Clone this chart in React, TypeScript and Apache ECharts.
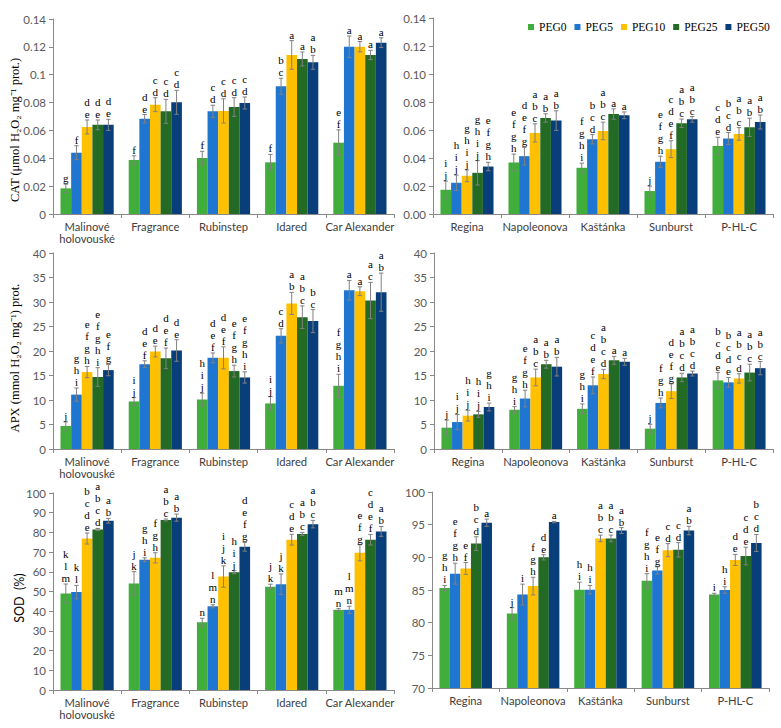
import React, { useEffect, useRef } from "react";
import * as echarts from "echarts";

const SERIES = ["PEG0", "PEG5", "PEG10", "PEG25", "PEG50"];
const COLORS = ["#41AE3B", "#1E76D0", "#FFC000", "#236A24", "#083F7B"];
const CATS_L = ["Malinové\nholovouské", "Fragrance", "Rubinstep", "Idared", "Car Alexander"];
const CATS_R = ["Regina", "Napoleonova", "Kaštánka", "Sunburst", "P-HL-C"];

// CAT left: [series][cultivar]
const catLMean = [
  [0.0184, 0.0388, 0.0402, 0.0371, 0.0512],
  [0.044, 0.0684, 0.0737, 0.0917, 0.1201],
  [0.0625, 0.0785, 0.074, 0.1142, 0.1201],
  [0.064, 0.0737, 0.0768, 0.1113, 0.1142],
  [0.064, 0.0802, 0.0797, 0.1089, 0.123],
];
const catLErr = [
  [0.003, 0.003, 0.0048, 0.0057, 0.0092],
  [0.005, 0.003, 0.0044, 0.0057, 0.0077],
  [0.005, 0.005, 0.0087, 0.0103, 0.0037],
  [0.0035, 0.0086, 0.0067, 0.005, 0.0033],
  [0.004, 0.0086, 0.0043, 0.005, 0.0035],
];
const catLLet = [
  ["g", "f", "f", "f", "ef"],
  ["f", "de", "cd", "bc", "a"],
  ["de", "cd", "cd", "a", "a"],
  ["de", "cd", "cd", "a", "a"],
  ["de", "cd", "cd", "ab", "a"],
];

// CAT right
const catRMean = [
  [0.0173, 0.0368, 0.033, 0.0164, 0.0486],
  [0.0223, 0.0413, 0.0534, 0.0373, 0.0539],
  [0.0273, 0.0579, 0.0593, 0.0463, 0.0572],
  [0.0294, 0.0686, 0.0714, 0.0648, 0.0619],
  [0.0339, 0.0667, 0.0705, 0.0676, 0.0657],
];
const catRErr = [
  [0.0062, 0.006, 0.0033, 0.0035, 0.0062],
  [0.0055, 0.0063, 0.0033, 0.004, 0.0043],
  [0.0042, 0.0065, 0.0063, 0.006, 0.0045],
  [0.0087, 0.003, 0.0037, 0.003, 0.0065],
  [0.003, 0.007, 0.0024, 0.002, 0.005],
];
const catRLet = [
  ["ij", "efgh", "fghi", "j", "cde"],
  ["hij", "defg", "bcd", "efgh", "bcd"],
  ["ghij", "abc", "abc", "cdef", "abc"],
  ["ghij", "ab", "a", "abc", "ab"],
  ["efgh", "ab", "a", "abc", "ab"],
];

// APX left
const apxLMean = [
  [4.7, 9.7, 10.1, 9.3, 12.9],
  [11.1, 17.3, 18.6, 23.1, 32.4],
  [15.7, 19.9, 18.6, 29.7, 32.2],
  [14.7, 18.5, 15.9, 26.9, 30.3],
  [16.1, 20.1, 14.6, 26.1, 32.0],
];
const apxLErr = [
  [0.85, 0.8, 1.3, 1.4, 2.35],
  [1.35, 0.7, 1.0, 1.45, 2.0],
  [1.15, 1.1, 2.25, 2.25, 0.9],
  [1.9, 2.1, 1.2, 2.3, 3.7],
  [1.15, 2.2, 1.15, 2.35, 3.9],
];
const apxLLet = [
  ["j", "ij", "hij", "ij", "fghi"],
  ["ghi", "def", "def", "cd", "a"],
  ["efgh", "de", "def", "ab", "a"],
  ["efghi", "def", "efgh", "abc", "ac"],
  ["efg", "de", "efghi", "bc", "ab"],
];

// APX right
const apxRMean = [
  [4.35, 8.0, 8.2, 4.15, 14.0],
  [5.5, 10.3, 13.0, 9.4, 13.6],
  [6.8, 14.6, 15.3, 11.8, 14.4],
  [7.07, 17.3, 18.1, 14.6, 15.6],
  [8.57, 16.8, 17.8, 15.4, 16.5],
];
const apxRErr = [
  [1.55, 0.65, 1.0, 0.9, 1.6],
  [1.55, 1.7, 1.7, 1.0, 1.0],
  [1.1, 1.7, 0.95, 1.5, 0.95],
  [0.6, 0.8, 0.8, 0.85, 1.7],
  [0.8, 1.9, 0.7, 0.5, 1.35],
];
const apxRLet = [
  ["j", "ghi", "ghi", "j", "bcde"],
  ["ij", "efgh", "cdef", "fgh", "bcde"],
  ["hij", "abc", "abcd", "defg", "abcd"],
  ["hij", "ab", "a", "abcd", "abc"],
  ["ghi", "ab", "a", "abcd", "abc"],
];

// SOD left
const sodLMean = [
  [49.0, 54.1, 34.4, 52.4, 40.7],
  [49.7, 66.1, 42.5, 53.7, 40.7],
  [76.9, 67.1, 57.6, 76.3, 69.7],
  [81.5, 86.3, 59.8, 79.2, 76.3],
  [85.9, 87.5, 72.7, 84.2, 80.5],
];
const sodLErr = [
  [4.8, 6.0, 2.0, 1.3, 0.6],
  [3.4, 1.0, 0.8, 5.2, 1.8],
  [2.8, 2.6, 5.4, 2.7, 4.1],
  [0.5, 0.5, 0.8, 0.8, 2.7],
  [1.2, 1.8, 2.2, 1.9, 2.5],
];
const sodLLet = [
  ["klm", "jk", "n", "jk", "mn"],
  ["kl", "ghi", "lmn", "jk", "lmn"],
  ["bcde", "fgh", "ijk", "cde", "efg"],
  ["abcd", "abc", "hij", "abc", "cdef"],
  ["ab", "ab", "defg", "abc", "ab"],
];

// SOD right
const sodRMean = [
  [85.3, 81.4, 85.05, 86.4, 84.3],
  [87.5, 84.3, 85.05, 88.0, 85.0],
  [88.3, 85.6, 92.9, 91.1, 89.6],
  [92.1, 90.0, 92.9, 91.15, 90.2],
  [95.3, 95.4, 94.1, 94.1, 92.2],
];
const sodRErr = [
  [0.4, 0.9, 1.15, 1.1, 0.2],
  [1.6, 1.6, 0.65, 0.55, 0.5],
  [0.9, 1.35, 0.5, 1.0, 0.85],
  [1.05, 0.4, 0.5, 1.1, 1.35],
  [0.55, 0.1, 0.45, 0.65, 1.3],
];
const sodRLet = [
  ["ghi", "j", "hi", "fghi", "i"],
  ["efgh", "i", "hi", "efg", "hi"],
  ["ef", "fgh", "abc", "cd", "de"],
  ["bcd", "de", "abc", "cd", "cde"],
  ["a", "a", "ab", "ab", "bcd"],
];

const CAT_GAP = 0.22;
const SANS = "Lato";
const SERIF = "Liberation Serif";
const AXIS_COLOR = "#898989";
const LABEL_COLOR = "#595959";

export default function App() {
  const ref = useRef<HTMLDivElement>(null);
  useEffect(() => {
    document.body.style.margin = "0";
    const chart = echarts.init(ref.current!, null, { renderer: "svg" });

    const panels = [
      { grid: { left: 53, top: 19, width: 341, height: 195 }, cats: CATS_L, mean: catLMean, err: catLErr, let: catLLet, min: 0, max: 0.14, interval: 0.02, fmt: (v: number) => String(+v.toFixed(2)) },
      { grid: { left: 433, top: 18, width: 340, height: 196 }, cats: CATS_R, mean: catRMean, err: catRErr, let: catRLet, min: 0, max: 0.14, interval: 0.02, fmt: (v: number) => v.toFixed(2) },
      { grid: { left: 53, top: 253, width: 341, height: 196 }, cats: CATS_L, mean: apxLMean, err: apxLErr, let: apxLLet, min: 0, max: 40, interval: 5, fmt: (v: number) => String(v) },
      { grid: { left: 434, top: 253, width: 339, height: 196 }, cats: CATS_R, mean: apxRMean, err: apxRErr, let: apxRLet, min: 0, max: 40, interval: 5, fmt: (v: number) => String(v) },
      { grid: { left: 53, top: 493, width: 341, height: 197 }, cats: CATS_L, mean: sodLMean, err: sodLErr, let: sodLLet, min: 0, max: 100, interval: 10, fmt: (v: number) => String(v) },
      { grid: { left: 432, top: 492, width: 337, height: 196 }, cats: CATS_R, mean: sodRMean, err: sodRErr, let: sodRLet, min: 70, max: 100, interval: 5, fmt: (v: number) => String(v) },
    ];

    const grids: any[] = [];
    const xAxes: any[] = [];
    const yAxes: any[] = [];
    const series: any[] = [];

    panels.forEach((p, pi) => {
      grids.push(p.grid);
      xAxes.push({
        type: "category",
        gridIndex: pi,
        data: p.cats,
        axisLine: { lineStyle: { color: AXIS_COLOR } },
        axisTick: { show: true, length: 4, interval: 0, lineStyle: { color: AXIS_COLOR } },
        axisLabel: { interval: 0, margin: 6, color: "#404040", fontFamily: SANS, fontSize: 11.2, lineHeight: 12.5 },
        splitLine: { show: false },
      });
      yAxes.push({
        type: "value",
        gridIndex: pi,
        min: p.min,
        max: p.max,
        interval: p.interval,
        axisLine: { show: true, lineStyle: { color: AXIS_COLOR } },
        axisTick: { show: true, length: 4, lineStyle: { color: AXIS_COLOR } },
        axisLabel: { margin: 7, color: LABEL_COLOR, fontFamily: SANS, fontSize: 11.5, formatter: p.fmt },
        splitLine: { show: false },
      });
      SERIES.forEach((name, si) => {
        series.push({
          type: "bar",
          name,
          xAxisIndex: pi,
          yAxisIndex: pi,
          data: p.mean[si],
          barGap: "0%",
          barCategoryGap: CAT_GAP * 100 + "%",
          itemStyle: { color: COLORS[si] },
        });
      });
      const data: number[][] = [];
      for (let si = 0; si < 5; si++) {
        for (let ci = 0; ci < 5; ci++) {
          data.push([ci, si, p.mean[si][ci], p.err[si][ci]]);
        }
      }
      const letters = p.let;
      series.push({
        type: "custom",
        xAxisIndex: pi,
        yAxisIndex: pi,
        data,
        encode: { x: 0, y: 2 },
        z: 5,
        renderItem: (params: any, api: any) => {
          const ci = api.value(0);
          const si = api.value(1);
          const m = api.value(2);
          const e = api.value(3);
          const band = api.size([1, 0])[0];
          const groupW = band * (1 - CAT_GAP);
          const barW = groupW / 5;
          const base = api.coord([ci, m]);
          const cx = base[0] - groupW / 2 + barW * (si + 0.5);
          const yTop = api.coord([ci, m + e])[1];
          const yBot = api.coord([ci, m - e])[1];
          const cap = 2.2;
          const ls = { stroke: "#808080", lineWidth: 1 };
          return {
            type: "group",
            children: [
              { type: "line", shape: { x1: cx, y1: yTop, x2: cx, y2: yBot }, style: ls },
              { type: "line", shape: { x1: cx - cap, y1: yTop, x2: cx + cap, y2: yTop }, style: ls },
              { type: "line", shape: { x1: cx - cap, y1: yBot, x2: cx + cap, y2: yBot }, style: ls },
              {
                type: "text",
                x: cx,
                y: yTop,
                style: {
                  text: letters[si][ci].split("").join("\n"),
                  align: "center",
                  verticalAlign: "bottom",
                  fontFamily: SERIF,
                  fontSize: 11,
                  lineHeight: 12,
                  fill: "#000",
                },
              },
            ],
          };
        },
      });
    });

    const option: any = {
      animation: false,
      backgroundColor: "#ffffff",
      grid: grids,
      xAxis: xAxes,
      yAxis: yAxes,
      series,
      legend: {
        data: SERIES,
        left: 523,
        top: 16,
        width: 258,
        icon: "rect",
        itemWidth: 6,
        itemHeight: 6,
        itemGap: 8,
        textStyle: { fontFamily: SERIF, fontSize: 11.5, color: "#000" },
      },
      graphic: [
        {
          type: "text",
          x: 15,
          y: 130,
          rotation: Math.PI / 2,
          style: { text: "CAT (μmol H₂O₂ mg⁻¹ prot.)", align: "center", verticalAlign: "middle", fontFamily: SERIF, fontSize: 12.5, fill: "#000" },
        },
        {
          type: "text",
          x: 15,
          y: 358,
          rotation: Math.PI / 2,
          style: { text: "APX (mmol H₂O₂ mg⁻¹) prot.", align: "center", verticalAlign: "middle", fontFamily: SERIF, fontSize: 12.5, fill: "#000" },
        },
        {
          type: "text",
          x: 19,
          y: 598,
          rotation: Math.PI / 2,
          style: { text: "SOD  (%)", align: "center", verticalAlign: "middle", fontFamily: SANS, fontSize: 12.5, fill: "#000" },
        },
      ],
    };
    chart.setOption(option);
    return () => chart.dispose();
  }, []);
  return <div ref={ref} style={{ width: 781, height: 728 }} />;
}
